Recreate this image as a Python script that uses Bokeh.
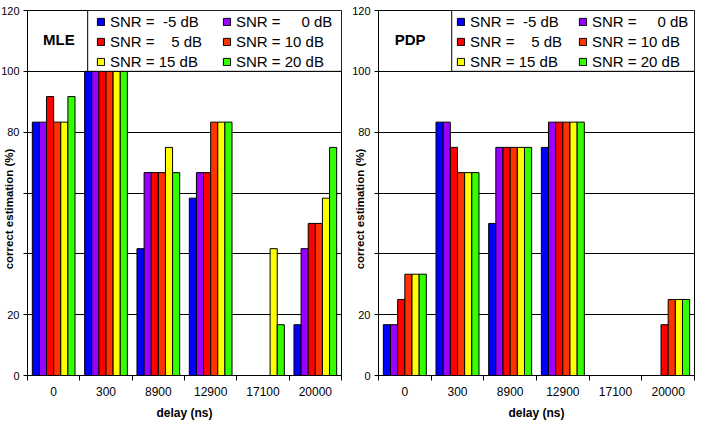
from bokeh.plotting import figure
from bokeh.layouts import row
from bokeh.models import FixedTicker, Legend, LegendItem, Label, BoxAnnotation, Range1d
from bokeh.embed import file_html
from bokeh.resources import INLINE

# delay categories (ns) shown on the x axis
delays = ["0", "300", "8900", "12900", "17100", "20000"]

# SNR series labels and fill colours
snr_labels = [
    "SNR =\u00a0\u00a0-5 dB",
    "SNR =\u00a0\u00a0\u00a0\u00a0\u00a00 dB",
    "SNR =\u00a0\u00a0\u00a0\u00a05 dB",
    "SNR = 10 dB",
    "SNR = 15 dB",
    "SNR = 20 dB",
]
snr_colors = ["#0000FF", "#9900FF", "#FF0000", "#FF3300", "#FFFF00", "#33FF00"]

# correct estimation (%) per SNR, one value per delay -- MLE
mle_m5 = [83.3, 100.0, 41.7, 58.3, 0.0, 16.7]
mle_0 = [83.3, 100.0, 66.7, 66.7, 0.0, 41.7]
mle_5 = [91.7, 100.0, 66.7, 66.7, 0.0, 50.0]
mle_10 = [83.3, 100.0, 66.7, 83.3, 0.0, 50.0]
mle_15 = [83.3, 100.0, 75.0, 83.3, 41.7, 58.3]
mle_20 = [91.7, 100.0, 66.7, 83.3, 16.7, 75.0]

# correct estimation (%) per SNR, one value per delay -- PDP
pdp_m5 = [16.7, 83.3, 50.0, 75.0, 0.0, 0.0]
pdp_0 = [16.7, 83.3, 75.0, 83.3, 0.0, 0.0]
pdp_5 = [25.0, 75.0, 75.0, 83.3, 0.0, 16.7]
pdp_10 = [33.3, 66.7, 75.0, 83.3, 0.0, 25.0]
pdp_15 = [33.3, 66.7, 75.0, 83.3, 0.0, 25.0]
pdp_20 = [33.3, 66.7, 75.0, 83.3, 0.0, 25.0]

y_ticks = [0, 20, 40, 60, 80, 100, 120]
y_hidden = [40, 60]

FONT = "Liberation Sans"
BAR_W = 0.136


def panel(series, name, width, border_right, legend_left, legend_box_left, label_w):
    n = len(delays)
    p = figure(width=width, height=428, output_backend="svg", toolbar_location=None,
               x_range=Range1d(0.5, n + 0.5), y_range=Range1d(0, 120),
               min_border_left=27, min_border_right=border_right,
               min_border_top=10, min_border_bottom=53)
    p.background_fill_color = "white"
    p.border_fill_color = "white"
    p.outline_line_color = "black"
    p.outline_line_width = 1

    centers = list(range(1, n + 1))
    renderers = []
    for j, vals in enumerate(series):
        xs = [c + (j - (len(series) - 1) / 2) * BAR_W for c in centers]
        r = p.vbar(x=xs, top=vals, bottom=0, width=BAR_W,
                   fill_color=snr_colors[j], line_color="black", line_width=1)
        renderers.append(r)

    # x axis: labels at the group centres, tick marks between groups
    xa = p.xaxis[0]
    xa.ticker = FixedTicker(ticks=centers, minor_ticks=[c - 0.5 for c in centers] + [n + 0.5])
    xa.major_label_overrides = {c: d for c, d in zip(centers, delays)}
    xa.major_tick_out = 0
    xa.major_tick_in = 0
    xa.minor_tick_out = 5
    xa.minor_tick_in = 0
    xa.minor_tick_line_color = "black"
    xa.axis_line_color = "black"
    xa.major_label_standoff = 6
    xa.major_label_text_font = FONT
    xa.major_label_text_font_size = "12px"
    xa.major_label_text_color = "black"
    xa.axis_label = "delay (ns)"
    xa.axis_label_text_font = FONT
    xa.axis_label_text_font_style = "bold"
    xa.axis_label_text_font_size = "12px"
    xa.axis_label_standoff = 7
    xa.axis_label_text_color = "black"

    ya = p.yaxis[0]
    ya.ticker = FixedTicker(ticks=y_ticks, minor_ticks=[])
    ya.major_label_overrides = {t: " " for t in y_hidden}
    ya.major_tick_out = 4
    ya.major_tick_in = 0
    ya.major_tick_line_color = "black"
    ya.axis_line_color = "black"
    ya.major_label_standoff = 4
    ya.major_label_text_font = FONT
    ya.major_label_text_font_size = "11px"
    ya.major_label_text_color = "black"
    # the rotated title sits beside the tick labels, overlapping their column
    ya.axis_label = "correct estimation (%)" + "\u00a0" * 10
    ya.axis_label_text_font = FONT
    ya.axis_label_text_font_style = "bold"
    ya.axis_label_text_font_size = "11.5px"
    ya.axis_label_text_color = "black"
    ya.axis_label_standoff = -17

    p.xgrid.visible = False
    p.ygrid.ticker = FixedTicker(ticks=y_ticks)
    p.ygrid.grid_line_color = "black"
    p.ygrid.grid_line_width = 1

    p.add_layout(Label(x=1.1, y=110.5, text=name, text_align="center", text_baseline="middle",
                       text_font=FONT, text_font_style="bold", text_font_size="15px",
                       text_color="black"))

    p.add_layout(BoxAnnotation(left=legend_box_left, bottom=100, fill_color="white", fill_alpha=1,
                               line_color="black", line_width=1, line_alpha=1))

    items = [LegendItem(label=lab, renderers=[r]) for lab, r in zip(snr_labels, renderers)]
    legend = Legend(items=items, location=(legend_left, 304), orientation="horizontal", ncols=2,
                    glyph_width=9, glyph_height=9, label_standoff=5, label_width=label_w,
                    label_height=20, spacing=0, padding=0, margin=0,
                    border_line_color=None, background_fill_alpha=0,
                    label_text_font=FONT, label_text_font_size="15px", label_text_color="black")
    p.add_layout(legend, "center")
    return p


p1 = panel([mle_m5, mle_0, mle_5, mle_10, mle_15, mle_20], "MLE", 351, 10, 69, 1.65, 112)
p2 = panel([pdp_m5, pdp_0, pdp_5, pdp_10, pdp_15, pdp_20], "PDP", 351, 8, 78, 1.89, 108)

layout = row(p1, p2)
open("out.html", "w").write(file_html(layout, INLINE))
